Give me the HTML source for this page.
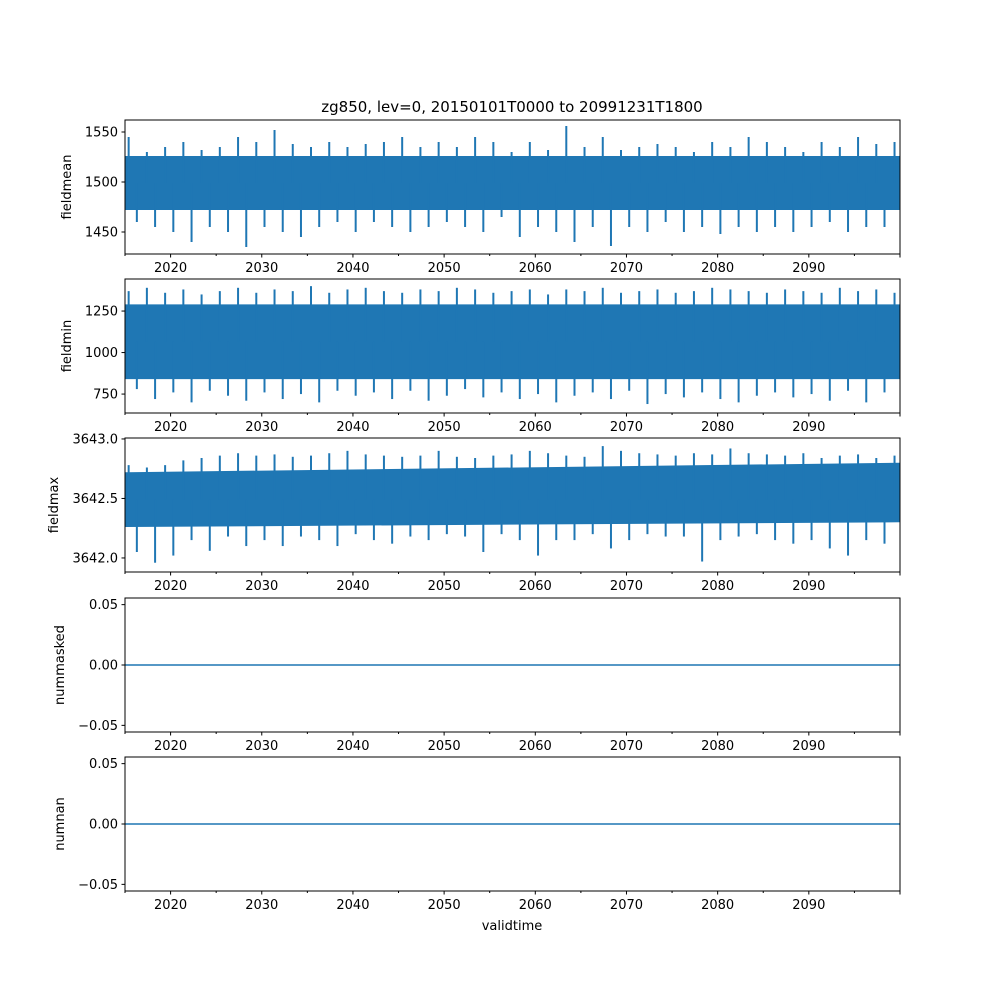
<!DOCTYPE html>
<html><head><meta charset="utf-8"><style>
body{margin:0;background:#fff}
svg{display:block;font-family:"DejaVu Sans","Liberation Sans",sans-serif}
</style></head><body>
<svg id="fig" width="1000" height="1000" viewBox="0 0 1000 1000">
<rect width="1000" height="1000" fill="#fff"/>
<text x="512" y="112" font-size="15" text-anchor="middle">zg850, lev=0, 20150101T0000 to 20991231T1800</text>
</svg>
<script>
// every 2 years from 2015
const years=[];for(let y=2015;y<=2099;y+=2)years.push(y);
const meanMax=[1545,1530,1535,1540,1532,1535,1545,1540,1552,1538,1535,1540,1535,1538,1540,1545,1535,1540,1535,1545,1540,1530,1540,1532,1556,1535,1545,1532,1535,1538,1535,1530,1540,1535,1545,1540,1535,1530,1540,1535,1545,1538,1540];
const meanMin=[1460,1455,1450,1440,1455,1450,1435,1455,1450,1445,1455,1460,1450,1460,1455,1450,1455,1460,1455,1450,1465,1445,1455,1450,1440,1455,1436,1455,1450,1460,1450,1455,1448,1455,1450,1455,1450,1455,1460,1450,1455,1455,1465];
const minMax=[1370,1390,1360,1380,1350,1370,1390,1360,1380,1370,1400,1360,1380,1390,1370,1360,1380,1370,1390,1380,1360,1370,1380,1350,1380,1370,1390,1360,1370,1380,1360,1370,1390,1380,1370,1360,1380,1370,1360,1390,1370,1380,1360];
const minMin=[780,720,760,700,770,740,710,760,720,750,700,770,740,760,720,770,710,740,780,730,760,720,750,700,740,760,720,770,690,750,730,760,720,700,740,760,730,750,710,770,700,760,780];
const maxMax=[3642.78,3642.76,3642.78,3642.82,3642.84,3642.86,3642.88,3642.86,3642.87,3642.85,3642.86,3642.88,3642.9,3642.87,3642.86,3642.85,3642.86,3642.9,3642.85,3642.84,3642.86,3642.87,3642.9,3642.88,3642.86,3642.85,3642.94,3642.9,3642.88,3642.87,3642.86,3642.88,3642.87,3642.92,3642.88,3642.87,3642.86,3642.88,3642.84,3642.86,3642.87,3642.84,3642.86];
const maxMin=[3642.05,3641.96,3642.02,3642.15,3642.06,3642.18,3642.1,3642.15,3642.1,3642.18,3642.15,3642.1,3642.2,3642.15,3642.12,3642.18,3642.15,3642.2,3642.18,3642.05,3642.2,3642.15,3642.02,3642.15,3642.15,3642.2,3642.08,3642.15,3642.2,3642.18,3642.18,3641.97,3642.15,3642.18,3642.2,3642.15,3642.12,3642.15,3642.08,3642.02,3642.15,3642.12,3642.15];
const xTicks=[2020,2030,2040,2050,2060,2070,2080,2090];
const panels=[
 {name:"fieldmean",top:120,lo:1428,hi:1562,ticks:[1450,1500,1550],labels:["1450","1500","1550"],mx:meanMax,mn:meanMin,bandHi:[1526,1526],bandLo:[1472,1472]},
 {name:"fieldmin",top:279,lo:636,hi:1443,ticks:[750,1000,1250],labels:["750","1000","1250"],mx:minMax,mn:minMin,bandHi:[1290,1290],bandLo:[840,840]},
 {name:"fieldmax",top:438,lo:3641.882,hi:3643.008,ticks:[3642,3642.5,3643],labels:["3642.0","3642.5","3643.0"],mx:maxMax,mn:maxMin,bandHi:[3642.72,3642.8],bandLo:[3642.26,3642.3]},
 {name:"nummasked",top:598,lo:-0.0555,hi:0.0555,ticks:[-0.05,0,0.05],labels:["\u22120.05","0.00","0.05"],flat:0},
 {name:"numnan",top:757,lo:-0.0555,hi:0.0555,ticks:[-0.05,0,0.05],labels:["\u22120.05","0.00","0.05"],flat:0}
];
const svg=document.getElementById('fig');const NS='http://www.w3.org/2000/svg';
const L=125,R=900,H=134,C='#1f77b4';
const xs=y=>L+(y-2015)/85*(R-L);
function mk(t,a,p){const e=document.createElementNS(NS,t);for(const k in a)e.setAttribute(k,a[k]);(p||svg).appendChild(e);return e;}
panels.forEach((p,pi)=>{
 const g=mk('g',{});
 
 
 const cp=mk('clipPath',{id:'clip'+pi},g);
 mk('rect',{x:L,y:p.top,width:R-L,height:H},cp);
 const ys=v=>p.top+H-(v-p.lo)/(p.hi-p.lo)*H;
 if(p.flat!==undefined){
  const l=mk('line',{x1:L,x2:R,y1:ys(p.flat),y2:ys(p.flat),stroke:C,'stroke-width':1.5},g);
  
  
 } else {
  const sg=mk('g',{'clip-path':`url(#clip${pi})`},g);
  const band=mk('polygon',{fill:C,points:`${L},${ys(p.bandHi[0])} ${R},${ys(p.bandHi[1])} ${R},${ys(p.bandLo[1])} ${L},${ys(p.bandLo[0])}`},sg);
  
  
  years.forEach((y,i)=>{
   const mid=(p.bandHi[0]+p.bandLo[0])/2;
   const up=mk('line',{x1:xs(y+0.4),x2:xs(y+0.4),y1:ys(mid),y2:ys(p.mx[i]),stroke:C,'stroke-width':2},sg);
   
   
   const dn=mk('line',{x1:xs(y+1.3),x2:xs(y+1.3),y1:ys(mid),y2:ys(p.mn[i]),stroke:C,'stroke-width':2},sg);
   
   
  });
 }
 const fr=mk('rect',{x:L,y:p.top,width:R-L,height:H,fill:'none',stroke:'#000','stroke-width':1},g);
 
 
 p.ticks.forEach((t,i)=>{
  const y=ys(t);
  mk('line',{x1:L-3.5,x2:L,y1:y,y2:y,stroke:'#000'},g);
  const tx=mk('text',{x:L-7,y:y+4.5,'font-size':13,'text-anchor':'end'},g);tx.textContent=p.labels[i];
  
  
 });
 for(let y=2015;y<=2100;y+=5){
  const x=xs(y);const major=y%10===0;
  mk('line',{x1:x,x2:x,y1:p.top+H,y2:p.top+H+(major?3.5:2),stroke:'#000'},g);
 }
 xTicks.forEach(y=>{
  const tx=mk('text',{x:xs(y),y:p.top+H+18,'font-size':13,'text-anchor':'middle'},g);tx.textContent=y;
  
  
 });
 const yl=mk('text',{x:0,y:0,'font-size':13,'text-anchor':'middle',transform:`translate(${p.name==='fieldmax'?58:p.name==='fieldmin'?71:p.name==='fieldmean'?71:64},${p.top+H/2}) rotate(-90)`},g);
 yl.textContent=p.name;
 
 
});
const xl=mk('text',{x:512,y:930,'font-size':13,'text-anchor':'middle'});xl.textContent='validtime';


</script>
</body></html>
